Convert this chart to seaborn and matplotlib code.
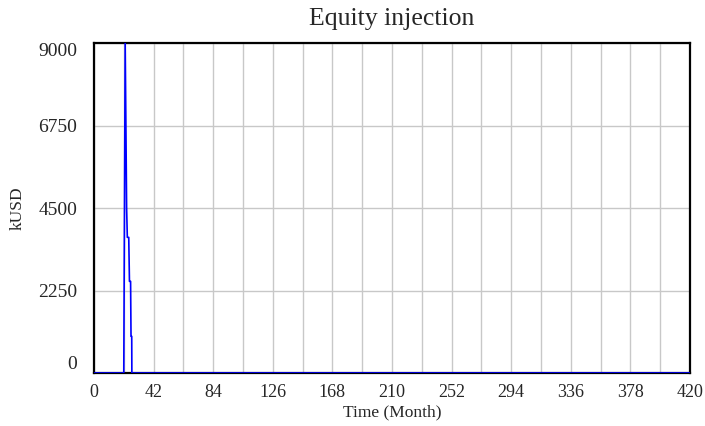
import pandas as pd
import matplotlib.pyplot as plt
import seaborn as sns

# data (month, kUSD)
months = [0, 21, 22, 23, 23.5, 24.5, 25, 25.8, 26.1, 26.6, 26.7, 420]
equity = [0, 0, 9000, 4500, 3700, 3700, 2500, 2500, 1000, 1000, 0, 0]
x_ticks = list(range(0, 421, 42))
x_grid = list(range(0, 421, 21))
y_ticks = [0, 2250, 4500, 6750, 9000]

data = pd.DataFrame({"Month": months, "kUSD": equity})

sns.set_style("white")
plt.rcParams["font.family"] = ["Liberation Serif", "DejaVu Serif"]

fig = plt.figure(figsize=(7.05, 4.26), dpi=100)
ax = fig.add_axes([0.1333, 0.1244, 0.8454, 0.7746])

sns.lineplot(x="Month", y="kUSD", data=data, ax=ax, color="#0000ff",
             linewidth=1.2, zorder=5)

ax.set_xlim(0, 420)
ax.set_ylim(0, 9000)
ax.set_xticks(x_ticks)
ax.set_xticks(x_grid, minor=True)
ax.set_yticks(y_ticks)
ax.grid(True, which="both", color="#c8c8c8", linewidth=1)
ax.tick_params(axis="both", which="both", length=0)
ax.tick_params(axis="x", pad=8, labelsize=13)
ax.tick_params(axis="y", pad=12, labelsize=14)

# vensim-style: keep end labels inside the frame
ylabels = ax.get_yticklabels()
ylabels[0].set_va("bottom")
ylabels[-1].set_va("top")

for s in ax.spines.values():
    s.set_color("black")
    s.set_linewidth(1.6)

ax.set_title("Equity injection", fontsize=18.5, pad=13)
ax.set_xlabel("Time (Month)", fontsize=12.5, labelpad=2)
ax.set_ylabel("kUSD", fontsize=12.5, labelpad=9)

plt.savefig("out.png", dpi=100)
